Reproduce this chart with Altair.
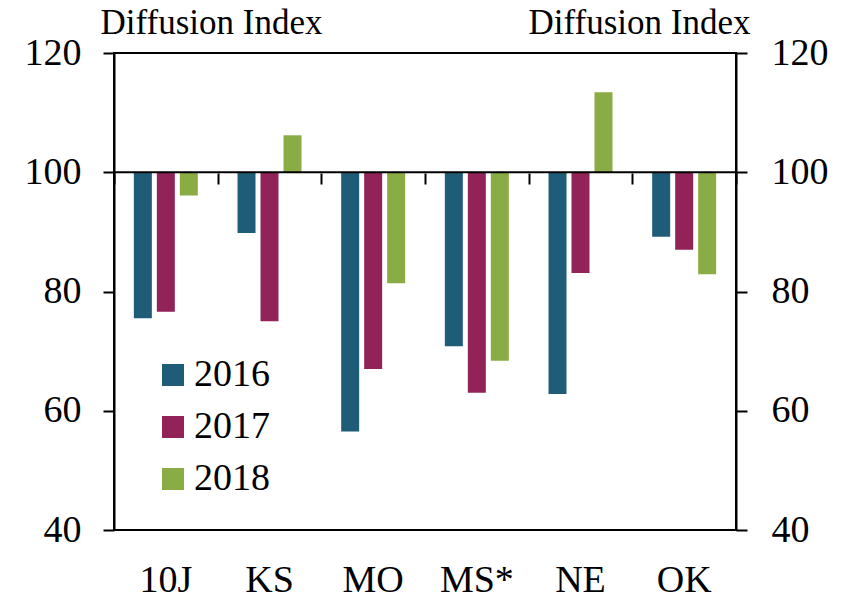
import altair as alt
import pandas as pd

categories = ["10J", "KS", "MO", "MS*", "NE", "OK"]
years = ["2016", "2017", "2018"]
v2016 = [75.5, 89.8, 56.5, 70.8, 62.8, 89.2]
v2017 = [76.6, 75.0, 67.0, 63.0, 83.1, 87.0]
v2018 = [96.1, 106.2, 81.4, 68.4, 113.4, 82.9]
colors = ["#1F5C78", "#922359", "#8AAC45"]
baseline = [100]

rows = []
for yr, vals in zip(years, [v2016, v2017, v2018]):
    for c, v in zip(categories, vals):
        rows.append({"cat": c, "year": yr, "value": v})
df = pd.DataFrame(rows)
base_df = pd.DataFrame({"base": baseline})

FONT = "Liberation Serif"

yscale = alt.Scale(domain=[40, 120], nice=False, zero=False)
xscale = alt.Scale(domain=categories, paddingInner=0, paddingOuter=0)

bars = alt.Chart(df).mark_bar().encode(
    x=alt.X("cat:N", sort=categories, scale=xscale,
            axis=alt.Axis(title=None, ticks=False, domain=False, labelAngle=0,
                          labelFont=FONT, labelFontSize=38, labelPadding=31)),
    xOffset=alt.XOffset("year:N", sort=years,
                        scale=alt.Scale(paddingInner=0.2174, paddingOuter=0.863)),
    y=alt.Y("value:Q", scale=yscale,
            axis=alt.Axis(orient="left", values=[40, 60, 80, 100, 120], tickSize=11,
                          labelFont=FONT, labelFontSize=38, labelPadding=22,
                          title="Diffusion Index", titleAngle=0, titleAlign="left",
                          titleBaseline="alphabetic", titleX=-14, titleY=-20,
                          titleFont=FONT, titleFontSize=35, titleFontWeight="normal")),
    y2=alt.Y2(datum=100),
    color=alt.Color("year:N", sort=years,
                    scale=alt.Scale(domain=years, range=colors),
                    legend=alt.Legend(orient="none", legendX=40, legendY=303, title=None,
                                      symbolType="square", symbolSize=484,
                                      symbolStrokeWidth=0, labelFontSize=38,
                                      labelFont=FONT, rowPadding=14, labelOffset=2,
                                      padding=0)),
)

base_rule = alt.Chart(base_df).mark_rule(color="black", strokeWidth=2).encode(
    y=alt.Y("base:Q", scale=yscale,
            axis=alt.Axis(orient="right", values=[40, 60, 80, 100, 120], tickSize=11,
                          labelFont=FONT, labelFontSize=38, labelPadding=24,
                          title="Diffusion Index", titleAngle=0, titleAlign="right",
                          titleBaseline="alphabetic", titleX=14, titleY=-20,
                          titleFont=FONT, titleFontSize=35, titleFontWeight="normal")),
)

tick_layer = alt.Chart(df).mark_bar(opacity=0).encode(
    x=alt.X("cat:N", sort=categories, scale=xscale,
            axis=alt.Axis(title=None, labels=False, domain=False, ticks=True,
                          tickBand="extent", tickSize=11, offset=-357, orient="bottom")),
    y=alt.Y("value:Q", scale=yscale, axis=None),
)

chart = alt.layer(bars, tick_layer, base_rule).resolve_scale(
    x="independent", y="independent"
).properties(
    width=622, height=477,
    autosize=alt.AutoSizeParams(type="none"),
    padding={"left": 106, "top": 45, "right": 100, "bottom": 78},
).configure(
    font=FONT
).configure_view(
    stroke="black", strokeWidth=2
).configure_axis(
    grid=False, domainColor="black", domainWidth=2, tickColor="black", tickWidth=2,
    labelFont=FONT, titleFont=FONT, labelColor="black", titleColor="black",
).configure_legend(
    labelFont=FONT, labelColor="black"
)

chart.save("out.html", embed_options={"renderer": "svg", "actions": False})
